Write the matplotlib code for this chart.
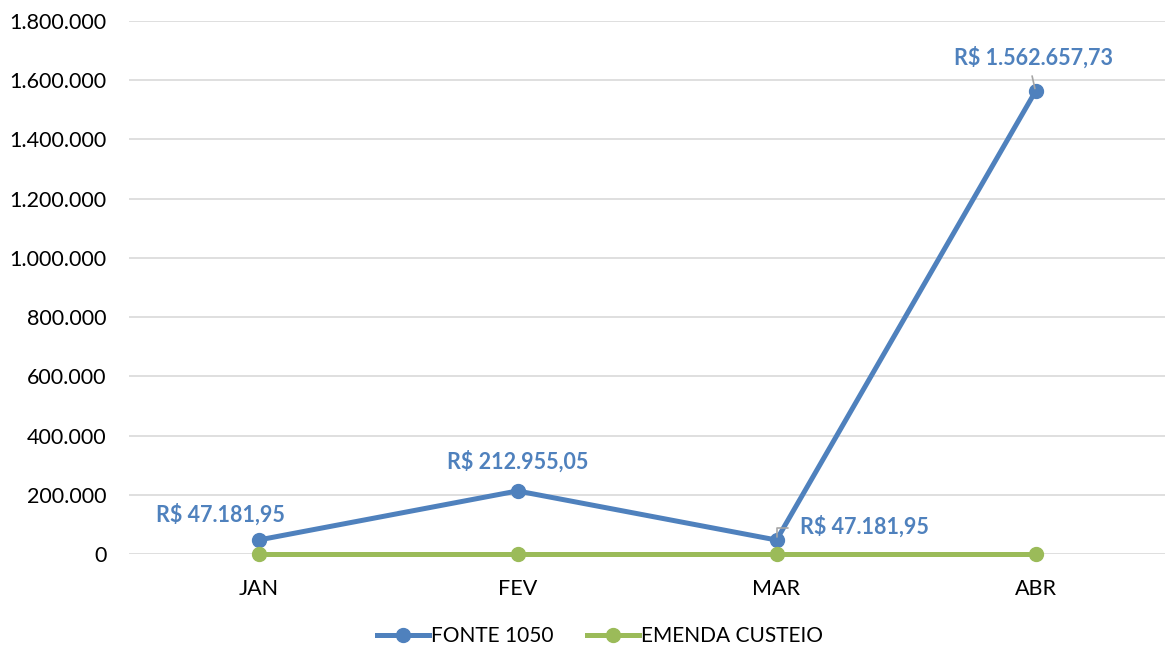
import matplotlib.pyplot as plt
from matplotlib.ticker import FuncFormatter

plt.rcParams['font.family'] = ['Lato', 'DejaVu Sans']

meses = ['JAN', 'FEV', 'MAR', 'ABR']
fonte_1050 = [47181.95, 212955.05, 47181.95, 1562657.73]
emenda_custeio = [0, 0, 0, 0]

azul = '#4F81BD'
verde = '#9BBB59'


def moeda(v):
    s = f'{v:,.2f}'
    s = s.replace(',', 'X').replace('.', ',').replace('X', '.')
    return 'R$ ' + s


def milhar(v, pos):
    return f'{v:,.0f}'.replace(',', '.')


fig = plt.figure(figsize=(11.65, 6.5), dpi=100)
ax = fig.add_axes([129 / 1165, 96 / 650, 1036 / 1165, 533 / 650])

x = list(range(len(meses)))
ax.plot(x, fonte_1050, color=azul, lw=3.6, marker='o', ms=10, label='FONTE 1050',
        zorder=3, clip_on=False)
ax.plot(x, emenda_custeio, color=verde, lw=3.6, marker='o', ms=10, label='EMENDA CUSTEIO',
        zorder=4, clip_on=False)

ax.set_xlim(-0.5, 3.5)
ax.set_ylim(0, 1800000)
ax.set_yticks(range(0, 1800001, 200000))
ax.yaxis.set_major_formatter(FuncFormatter(milhar))
ax.set_xticks(x)
ax.set_xticklabels(meses)
ax.tick_params(axis='both', length=0, labelsize=15.5, colors='#000000')
ax.tick_params(axis='y', pad=16)
ax.tick_params(axis='x', pad=18)
ax.grid(axis='y', color='#D9D9D9', lw=1.2)
ax.set_axisbelow(True)
for s in ax.spines.values():
    s.set_visible(False)

# rotulos de dados
offsets = [(-38, 25, 'center', False), (0, 29, 'center', False),
           (24, 13, 'left', True), (-2, 34, 'center', True)]
for i, v in enumerate(fonte_1050):
    dx, dy, ha, leader = offsets[i]
    ax.annotate(moeda(v), (i, v), xytext=(dx, dy), textcoords='offset pixels',
                ha=ha, va='center', fontsize=15.5, fontweight='bold', color=azul,
                annotation_clip=False, zorder=5)
    if leader:
        if i == 2:
            ax.annotate('', (i, v), xytext=(14, 12), textcoords='offset pixels',
                        arrowprops=dict(arrowstyle='-', color='#A6A6A6', lw=1.2,
                                        connectionstyle='angle,angleA=0,angleB=90'))
        else:
            ax.annotate('', (i, v), xytext=(-4, 18), textcoords='offset pixels',
                        arrowprops=dict(arrowstyle='-', color='#A6A6A6', lw=1.2))

leg = fig.legend(loc='center', bbox_to_anchor=(0.515, 14 / 650), ncol=2,
                 frameon=False, fontsize=15, handlelength=2.5, columnspacing=1.6,
                 handletextpad=0.1)

fig.savefig('out.png', dpi=100)
